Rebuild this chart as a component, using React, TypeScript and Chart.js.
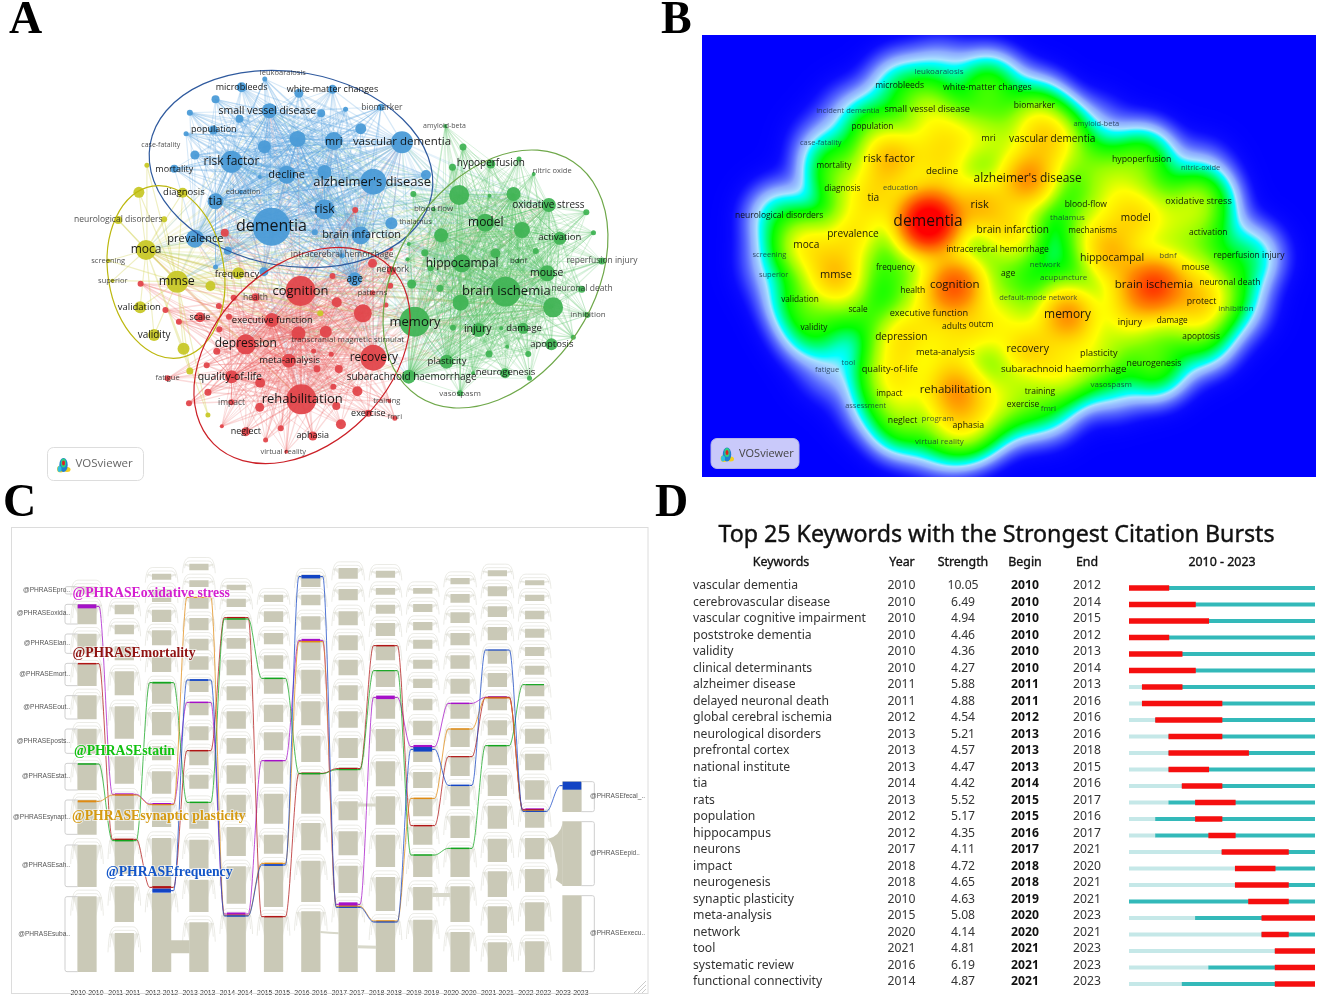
import React, { useEffect, useRef } from "react";
import { Chart, registerables } from "chart.js";

Chart.register(...registerables);

// ---------- Panel A: keyword network ----------
type N = [number, number, number];
const blueNodes: N[] = [[645,680,19],[887,545,13],[955,427,11],[550,485,11],[771,628,10],[512,604,8],[463,716,9],[857,706,9],[793,423,9],[681,524,9],[707,417,8],[628,440,6.5],[771,516,7],[640,332,7.5],[574,262,5],[710,280,4.5],[790,268,4.5],[905,322,3.5],[857,386,5.5],[763,340,4],[821,328,2.5],[507,390,4.5],[569,356,4],[512,298,4],[451,338,3],[442,401,2.5],[463,465,4.5],[414,506,4],[629,237,2.5],[617,531,2],[572,575,2],[930,670,6],[1012,525,5],[748,697,3],[541,752,4],[512,801,2.5],[627,815,4.5],[843,838,7],[813,767,2.5]];
const yellowNodes: N[] = [[421,845,11],[347,750,10],[333,922,6],[366,1005,6],[436,1046,6],[330,577,5.5],[434,578,5],[281,660,4],[390,658,3],[500,858,5],[566,820,6],[258,782,2],[267,842,2],[349,496,2.5],[451,1113,3.5],[494,1245,2.5],[761,940,3]];
const redNodes: N[] = [[714,873,15],[716,1198,15],[887,1073,13],[584,1033,10],[862,940,9],[646,960,7],[709,1000,7],[774,995,6],[686,1082,7],[550,1130,6.5],[618,1148,5],[800,907,5],[475,952,5],[607,892,4],[555,893,3],[790,828,3],[885,790,4.5],[930,812,4.5],[927,857,3],[885,878,2.5],[917,915,2.5],[929,747,2],[844,630,3],[534,698,4],[334,851,3],[393,930,3],[425,965,3],[520,918,3],[544,950,3],[521,988,3],[515,1054,3.5],[491,1096,3],[398,1135,3],[494,1177,3.5],[449,1210,3],[550,1207,3],[617,1222,4.5],[527,1279,2],[584,1295,4.5],[667,1285,3],[631,1320,2.5],[743,1308,4.5],[680,1355,2],[810,1273,5],[875,1240,3.5],[938,1255,2.5],[925,1203,2],[849,1174,5],[799,1218,4],[792,1160,3],[805,1107,4],[753,1106,3.5],[745,1053,2.5],[787,1063,2.5]];
const greenNodes: N[] = [[1201,875,15],[985,965,15],[1097,790,9],[1153,668,9],[1091,585,10],[1240,690,8],[1220,582,7],[1304,615,7],[1330,715,6.5],[1048,706,7],[1300,820,8],[1314,922,10],[1094,908,8],[1137,990,7],[1243,985,5.5],[1310,1033,6],[1061,1085,7],[971,1130,7],[1200,1120,5],[1162,1062,3.5],[1255,1062,3],[1205,1040,2],[1093,1180,3],[1258,1135,2.5],[1362,1012,2.5],[1395,945,3],[1382,868,3.5],[1430,783,3.5],[1410,698,2.5],[1393,637,3],[1268,522,2],[1233,477,2.5],[1166,492,4.5],[1100,441,3.5],[1075,502,3.5],[1058,378,2],[982,582,3],[1030,628,2],[1163,587,2],[1177,760,5],[1273,753,3],[1232,782,2],[1009,758,3.5],[971,732,2],[968,778,2],[1023,805,3],[978,852,4.5],[1045,865,3.5],[1076,983,3],[1191,985,2],[1124,1120,2]];
type L = [string, number, number, number];
const networkLabels: L[] = [["leukoaraiosis",672,218,7.5],["microbleeds",574,262,9],["white-matter changes",790,268,9],["small vessel disease",635,332,10.5],["biomarker",907,322,8.5],["amyloid-beta",1056,378,7],["population",508,388,9],["case-fatality",382,435,7],["vascular dementia",955,425,11.5],["mri",793,425,11],["risk factor",550,486,12],["hypoperfusion",1166,490,10],["nitric oxide",1312,513,7.5],["mortality",414,507,9],["decline",681,524,11],["alzheimer's disease",884,546,13],["education",578,575,7.5],["diagnosis",437,578,9.5],["tia",512,604,12],["oxidative stress",1303,614,10],["risk",771,628,12],["blood flow",1030,627,8],["neurological disorders",281,660,8.5],["dementia",645,678,16],["thalamus",987,666,7.5],["model",1154,668,12],["prevalence",464,716,11],["brain infarction",859,705,11],["activation",1330,713,9.5],["moca",347,750,12],["intracerebral hemorrhage",813,765,8.5],["hippocampal",1098,790,12],["bdnf",1232,782,8],["reperfusion injury",1430,783,8.5],["screening",257,782,7.5],["network",933,810,8.5],["mouse",1299,820,10.5],["frequency",563,822,9.5],["age",843,838,10],["superior",268,842,7.5],["mmse",420,845,12.5],["cognition",714,873,13],["brain ischemia",1203,875,13],["neuronal death",1383,865,8.5],["patterns",885,879,7.5],["health",607,892,8.5],["validation",331,922,9.5],["inhibition",1397,945,8],["scale",475,952,9],["executive function",647,961,9.5],["memory",986,966,13],["injury",1135,988,10.5],["damage",1245,985,9.5],["validity",366,1005,10],["transcranial magnetic stimulat",826,1020,8],["depression",584,1032,12],["apoptosis",1311,1033,9.5],["recovery",888,1073,12],["meta-analysis",688,1082,9.5],["plasticity",1062,1084,9.5],["neurogenesis",1201,1118,9.5],["quality-of-life",546,1132,10.5],["subarachnoid haemorrhage",978,1132,10],["fatigue",398,1135,7.5],["vasospasm",1093,1180,8],["rehabilitation",718,1198,13],["training",919,1203,7.5],["impact",550,1207,8.5],["exercise",875,1240,9],["fmri",938,1252,7.5],["neglect",584,1293,9],["aphasia",743,1305,9],["virtual reality",673,1355,7.5]];

// ---------- Panel B: density map ----------
const densityLabels: L[] = [["leukoaraiosis",658,215,8],["microbleeds",565,258,8.5],["white-matter changes",772,262,9.5],["small vessel disease",630,327,10],["incident dementia",443,333,7.5],["biomarker",883,318,8.5],["amyloid-beta",1029,372,7.5],["population",501,381,9],["case-fatality",379,428,7.5],["mri",775,416,10],["vascular dementia",925,418,11],["hypoperfusion",1136,480,9.5],["nitric-oxide",1275,504,7.5],["risk factor",540,477,12],["mortality",410,497,9],["decline",665,514,10.5],["alzheimer's disease",867,535,13],["education",567,564,7.5],["diagnosis",430,565,9],["tia",503,594,11],["oxidative stress",1270,603,10],["risk",754,614,12],["blood-flow",1004,614,8.5],["neurological disorders",281,647,8.5],["dementia",632,665,17],["thalamus",961,652,8],["model",1122,655,11],["prevalence",455,703,11],["brain infarction",832,691,11],["mechanisms",1020,691,9],["activation",1293,697,8.5],["moca",345,735,11],["intracerebral hemorrhage",796,749,8.5],["hippocampal",1066,773,11.5],["bdnf",1198,766,8],["reperfusion injury",1389,767,8.5],["screening",258,766,7.5],["frequency",555,804,9],["network",908,794,8],["age",821,820,8.5],["acupuncture",952,832,8],["mouse",1263,804,9.5],["mmse",415,826,12],["superior",268,825,7.5],["cognition",695,853,12.5],["brain ischemia",1165,855,12.5],["neuronal death",1344,848,8.5],["health",596,873,8.5],["validation",330,900,9],["default-mode network",892,895,7.5],["protect",1277,905,9.5],["scale",467,930,9],["executive function",634,940,10],["inhibition",1358,925,8],["memory",961,945,13],["injury",1108,966,10],["damage",1208,963,9],["adults",694,979,8.5],["outcm",757,974,9],["validity",363,982,9],["depression",569,1010,11],["apoptosis",1276,1010,9],["recovery",867,1048,11.5],["meta-analysis",673,1058,10],["plasticity",1035,1060,10],["neurogenesis",1165,1092,9.5],["tool",444,1090,7.5],["fatigue",394,1110,7.5],["quality-of-life",542,1107,10],["subarachnoid haemorrhage",952,1107,10.5],["vasospasm",1064,1154,8],["rehabilitation",697,1170,12.5],["impact",541,1181,9],["training",896,1175,8.5],["exercise",856,1213,8.5],["fmri",916,1225,8],["assessment",485,1217,7.5],["neglect",572,1263,9.5],["program",655,1257,8],["aphasia",727,1276,9.5],["virtual reality",659,1324,8]];
const densityUnlabeled: [number, number, number][] = [[690,410,10.5],[620,440,9.5],[880,380,10],[1080,590,9.5],[1000,490,9],[1060,520,9],[1180,590,8.5],[1210,680,9.5],[1040,720,9.5],[1270,900,10.5],[1090,900,10],[730,990,9.5],[790,995,9],[820,920,9.5],[590,1150,9.5],[800,1170,9.5],[780,1230,9],[700,1270,9.5],[695,853,11],[1165,855,11.5]];

// ---------- Panel C: alluvial ----------
const periods = ["2010-2010","2011-2011","2012-2012","2013-2013","2014-2014","2015-2015","2016-2016","2017-2017","2018-2018","2019-2019","2020-2020","2021-2021","2022-2022","2023-2023"];
const columnBlocks: [number, number][][] = [
  [[290,312],[343,402],[432,490],[520,587],[617,687],[717,790],[820,900],[930,1033],[1065,1190],[1220,1445]],
  [[345,372],[405,432],[470,510],[545,615],[650,745],[800,880],[915,1020],[1050,1150],[1190,1295],[1330,1445]],
  [[252,268],[298,335],[360,395],[422,465],[500,545],[578,640],[667,735],[770,810],[845,910],[943,1010],[1045,1190],[1210,1445]],
  [[222,240],[272,290],[322,355],[385,420],[447,480],[500,538],[572,605],[637,675],[710,750],[782,825],[855,895],[937,1015],[1050,1135],[1170,1265],[1298,1445]],
  [[285,300],[327,350],[382,415],[445,475],[510,555],[590,630],[665,715],[745,790],[827,880],[915,980],[1012,1097],[1130,1240],[1275,1445]],
  [[315,335],[365,395],[430,462],[497,535],[565,610],[645,695],[728,780],[812,880],[912,1000],[1035,1090],[1122,1250],[1280,1445]],
  [[255,290],[315,345],[380,418],[450,510],[540,610],[635,705],[738,815],[848,970],[1000,1080],[1113,1235],[1265,1445]],
  [[235,265],[298,330],[365,405],[437,480],[510,555],[587,630],[665,712],[745,803],[833,903],[935,990],[1025,1095],[1128,1208],[1240,1445]],
  [[243,262],[295,313],[345,370],[400,437],[467,510],[542,590],[620,685],[718,783],[815,888],[920,1003],[1035,1130],[1162,1262],[1293,1445]],
  [[295,310],[343,365],[397,420],[450,475],[510,535],[567,593],[627,660],[693,735],[768,815],[847,893],[925,978],[1010,1063],[1095,1160],[1192,1260],[1290,1445]],
  [[265,282],[313,337],[368,398],[430,465],[497,535],[567,610],[640,685],[717,770],[800,857],[888,948],[978,1043],[1075,1160],[1190,1295],[1327,1445]],
  [[242,258],[290,318],[350,380],[412,450],[480,520],[550,590],[620,660],[692,735],[767,825],[855,917],[948,1015],[1047,1115],[1145,1220],[1250,1328],[1358,1445]],
  [[272,285],[315,332],[363,387],[417,442],[472,497],[528,553],[584,618],[650,685],[717,760],[792,840],[872,928],[957,1012],[1045,1107],[1138,1205],[1238,1323],[1355,1445]],
  [[875,965],[995,1187],[1217,1445]],
];
const oxidativeLevels = [349,913,942,637,1272,812,451,1243,622,770,640,622,958,null];
const oxidativeWidths = [4,2,2,1.5,3,1.5,3,4,3.5,3.5,1.5,2,2,0];
const mortalityLevels = [521,1048,1192,782,383,1280,850,836,467,1007,800,622,960,null];
const mortalityWidths = [1.5,1.5,2.5,1.5,1.5,1.5,1.5,1.5,1.5,1.5,1.2,1.2,1.5,0];
const statinLevels = [822,1052,578,937,387,565,851,839,542,1095,1075,767,584,null];
const statinWidths = [1.5,1.5,1.8,1.5,1.5,1.5,1.5,1.2,1.2,1.5,1.5,1.5,1.2,0];
const synapticLevels = [934,915,944,322,1276,1120,455,1249,1293,925,717,624,962,null];
const synapticWidths = [2,1.5,1.2,1.2,1.5,1.5,1.5,1.5,1.5,1.5,1.5,1.2,1.2,0];
const frequencyLevels = [null,null,1202,570,1278,1125,260,1252,1296,778,886,480,964,887];
const frequencyWidths = [0,0,4,1.8,1.5,1.8,3.5,1.2,1.2,4.5,1.5,1.2,1.2,8];
const leftStreams = ["@PHRASEpro..","@PHRASEoxida..","@PHRASElan..","@PHRASEmort..","@PHRASEout..","@PHRASEposts..","@PHRASEstat..","@PHRASEsynapt..","@PHRASEsah..","@PHRASEsuba.."];
const leftStreamY = [300,371,460,553,652,753,860,982,1127,1332];
const rightStreams = ["@PHRASEfecal_..","@PHRASEepid..","@PHRASEexecu.."];
const rightStreamY = [920,1090,1330];

// ---------- Panel D: citation bursts ----------
const keywords = ["vascular dementia","cerebrovascular disease","vascular cognitive impairment","poststroke dementia","validity","clinical determinants","alzheimer disease","delayed neuronal death","global cerebral ischemia","neurological disorders","prefrontal cortex","national institute","tia","rats","population","hippocampus","neurons","impact","neurogenesis","synaptic plasticity","meta-analysis","network","tool","systematic review","functional connectivity"];
const yearsFirst = [2010,2010,2010,2010,2010,2010,2011,2011,2012,2013,2013,2013,2014,2013,2012,2012,2017,2018,2018,2010,2015,2020,2021,2016,2014];
const strengths = ["10.05","6.49","4.94","4.46","4.36","4.27","5.88","4.88","4.54","5.21","4.57","4.47","4.42","5.52","5.17","4.35","4.11","4.72","4.65","4.63","5.08","4.14","4.81","6.19","4.87"];
const burstBegin = [2010,2010,2010,2010,2010,2010,2011,2011,2012,2013,2013,2013,2014,2015,2015,2016,2017,2018,2018,2019,2020,2020,2021,2021,2021];
const burstEnd = [2012,2014,2015,2012,2013,2014,2013,2016,2016,2016,2018,2015,2016,2017,2016,2017,2021,2020,2021,2021,2023,2021,2023,2023,2023];

const OPEN = '"Open Sans"';

function badge(ctx: any, x: number, y: number, w: number, h: number, fill: string, stroke: string, textColor: string, size: number) {
  ctx.save();
  ctx.fillStyle = fill; ctx.strokeStyle = stroke; ctx.lineWidth = 1;
  ctx.beginPath(); ctx.roundRect(x, y, w, h, 6); ctx.fill(); ctx.stroke();
  const ix = x + 16, iy = y + h / 2;
  const blob = (dx: number, dy: number, rx: number, ry: number, c: string, rot = 0) => {
    ctx.fillStyle = c; ctx.beginPath(); ctx.ellipse(ix + dx, iy + dy, rx, ry, rot, 0, 7); ctx.fill();
  };
  blob(-3, 5, 3.5, 3.5, "#f0d020"); blob(3.5, 5.5, 3.5, 2.5, "#f0d020");
  blob(0, 1, 4.2, 7, "#2080d0"); blob(-4, 5, 2, 3, "#30c0e0"); blob(0, -1, 2.6, 4.5, "#30d080");
  blob(0, -1, 1.5, 2.6, "#e02020");
  ctx.fillStyle = textColor; ctx.font = `${size}px ${OPEN}`; ctx.textAlign = "left"; ctx.textBaseline = "middle";
  ctx.fillText("VOSviewer", x + 28, iy);
  ctx.restore();
}

function fan(hub: N, targets: N[], color: string, width: number, order: number) {
  const data: any[] = [];
  targets.forEach((t) => { if (t !== hub) data.push({ x: hub[0], y: hub[1] }, { x: t[0], y: t[1] }, { x: NaN, y: NaN }); });
  return { type: "line", data, borderColor: color, borderWidth: width, pointRadius: 0, spanGaps: false, order };
}

function networkConfig() {
  const clusters: [N[], string, string][] = [
    [blueNodes, "rgba(75,155,215,0.95)", "rgba(90,165,225,0.25)"],
    [yellowNodes, "rgba(200,200,40,0.95)", "rgba(205,205,70,0.33)"],
    [redNodes, "rgba(226,70,75,0.95)", "rgba(235,95,95,0.23)"],
    [greenNodes, "rgba(65,180,85,0.95)", "rgba(90,195,105,0.23)"],
  ];
  const datasets: any[] = [];
  clusters.forEach(([nodes, col]) => {
    datasets.push({ type: "bubble", data: nodes.map((n) => ({ x: n[0], y: n[1], r: n[2] })), backgroundColor: col, borderWidth: 0, order: 0 });
  });
  clusters.forEach(([nodes, , edge], ci) => {
    nodes.filter((n) => n[2] >= 6.5).forEach((h) => datasets.push(fan(h, nodes, edge, 0.5 + h[2] / 16, 2)));
    clusters.forEach(([other], oi) => {
      if (oi === ci) return;
      nodes.filter((n) => n[2] >= 10).forEach((h) => datasets.push(fan(h, other.filter((n) => n[2] >= 7), edge.replace(/[\d.]+\)$/, "0.16)"), 1.1, 3)));
    });
  });
  return {
    type: "bubble",
    data: { datasets },
    options: {
      animation: false, responsive: false, devicePixelRatio: 1,
      layout: { autoPadding: false },
      plugins: { legend: { display: false }, tooltip: { enabled: false } },
      scales: { x: { type: "linear", min: 0, max: 1568, display: false }, y: { type: "linear", min: 0, max: 1470, reverse: true, display: false } },
    },
    plugins: [{
      id: "net",
      afterDatasetsDraw(chart: any) {
        const { ctx, scales: { x, y } } = chart;
        ctx.save();
        const ell = (cx: number, cy: number, a: number, b: number, rot: number, c: string) => {
          ctx.strokeStyle = c; ctx.lineWidth = 1.2; ctx.beginPath();
          ctx.ellipse(cx, cy, a, b, (rot * Math.PI) / 180, 0, Math.PI * 2); ctx.stroke();
        };
        ell(291, 169, 143, 97, 10, "#2f5a9e");
        ell(166, 272, 87, 58, 81, "#bdb80f");
        ell(302, 355.5, 125, 88, -45, "#cb2027");
        ell(495.5, 279, 140.5, 97.7, -56.5, "#6fa84a");
        ctx.textAlign = "center"; ctx.textBaseline = "middle";
        networkLabels.forEach(([t, lx, ly, s]) => {
          ctx.font = `${s}px ${OPEN}`;
          ctx.fillStyle = s < 8.6 ? "rgba(30,30,30,0.8)" : "rgba(10,10,10,0.92)";
          ctx.fillText(t, x.getPixelForValue(lx), y.getPixelForValue(ly));
        });
        ctx.restore();
        badge(ctx, 47.5, 447.5, 96, 33, "#ffffff", "#dddddd", "#666666", 11.5);
      },
    }],
  };
}

const densityStops: [number, number, number, number][] = [
  [0, 0, 0, 255], [0.02, 10, 10, 255], [0.06, 60, 70, 255], [0.14, 140, 170, 255], [0.22, 170, 225, 255], [0.28, 0, 255, 255],
  [0.42, 0, 255, 130], [0.6, 0, 255, 0], [1.2, 150, 255, 0], [1.8, 255, 255, 0], [2.8, 255, 200, 0], [3.8, 255, 140, 0], [5.6, 255, 60, 0], [7.6, 255, 0, 0],
];
function densityColor(v: number) {
  const s = densityStops;
  if (v >= s[s.length - 1][0]) return s[s.length - 1];
  for (let i = 1; i < s.length; i++) {
    if (v < s[i][0]) {
      const f = (v - s[i - 1][0]) / (s[i][0] - s[i - 1][0]);
      const a = s[i - 1], b = s[i];
      return [v, a[1] + (b[1] - a[1]) * f, a[2] + (b[2] - a[2]) * f, a[3] + (b[3] - a[3]) * f];
    }
  }
  return s[0];
}

function densityConfig() {
  const sites = [...densityLabels.map(([, x, y, s]) => [x, y, s]), ...densityUnlabeled];
  return {
    type: "scatter",
    data: { datasets: [{ data: sites.map(([x, y, s]) => ({ x, y, w: Math.pow((s - 6.5) / 3.5, 2) })), pointRadius: 0 }] },
    options: {
      animation: false, responsive: false, devicePixelRatio: 1,
      layout: { padding: { left: 42, top: 35, right: 9, bottom: 13 } },
      plugins: { legend: { display: false }, tooltip: { enabled: false } },
      scales: { x: { type: "linear", min: 99, max: 1547, display: false }, y: { type: "linear", min: 105, max: 1431, reverse: true, display: false } },
    },
    plugins: [{
      id: "density",
      beforeDatasetsDraw(chart: any) {
        const { ctx, chartArea: a, scales: { x, y } } = chart;
        const W = Math.round(a.right - a.left), H = Math.round(a.bottom - a.top);
        const pts = chart.data.datasets[0].data.map((d: any) => [x.getPixelForValue(d.x) - a.left, y.getPixelForValue(d.y) - a.top, d.w]);
        const field = new Float32Array(W * H);
        const sigma = 20, k = 1 / (2 * sigma * sigma), R = sigma * 4;
        pts.forEach(([px, py, w]: number[]) => {
          const x0 = Math.max(0, Math.floor(px - R)), x1 = Math.min(W - 1, Math.ceil(px + R));
          const y0 = Math.max(0, Math.floor(py - R)), y1 = Math.min(H - 1, Math.ceil(py + R));
          for (let j = y0; j <= y1; j++) for (let i = x0; i <= x1; i++) {
            const dx = i - px, dy = j - py;
            field[j * W + i] += w * Math.exp(-(dx * dx + dy * dy) * k);
          }
        });
        const img = ctx.createImageData(W, H);
        for (let p = 0; p < W * H; p++) {
          const c = densityColor(field[p]);
          img.data[p * 4] = c[1]; img.data[p * 4 + 1] = c[2]; img.data[p * 4 + 2] = c[3]; img.data[p * 4 + 3] = 255;
        }
        ctx.putImageData(img, Math.round(a.left), Math.round(a.top));
      },
      afterDatasetsDraw(chart: any) {
        const { ctx, scales: { x, y } } = chart;
        ctx.save();
        ctx.textAlign = "center"; ctx.textBaseline = "middle";
        densityLabels.forEach(([t, lx, ly, s]) => {
          ctx.font = `${s > 8.6 ? s * 0.92 : s}px ${OPEN}`;
          ctx.fillStyle = s < 8.2 ? "rgba(20,40,60,0.78)" : "rgba(10,10,10,0.92)";
          ctx.fillText(t, x.getPixelForValue(lx), y.getPixelForValue(ly));
        });
        ctx.restore();
        badge(ctx, 51, 438.5, 88, 30, "#c9c9fa", "#b5b5e8", "#444444", 11);
      },
    }],
  };
}

function fade(color: string) { return color + "bb"; }

function flow(levels: (number | null)[], widths: number[], color: string) {
  const data: any[] = [];
  const last = levels.length - 1;
  levels.forEach((v, i) => {
    if (v === null) return;
    const hasPrev = i > 0 && levels[i - 1] !== null;
    const hasNext = i < last && levels[i + 1] !== null;
    if (hasPrev) data.push({ x: i - 0.32, y: v });
    data.push({ x: i - 0.25, y: v }, { x: i + 0.25, y: v });
    if (hasNext) data.push({ x: i + 0.32, y: v });
  });
  const plateau = (c: any) => c.p1.parsed.x - c.p0.parsed.x > 0.45;
  return {
    type: "line", xAxisID: "xl", yAxisID: "y", data, borderColor: color, borderWidth: 1, pointRadius: 0,
    cubicInterpolationMode: "monotone", order: 0, clip: false,
    segment: {
      borderWidth: (c: any) => (plateau(c) ? widths[Math.round((c.p0.parsed.x + c.p1.parsed.x) / 2)] : 1),
      borderColor: (c: any) => (c.p0.parsed.y !== c.p1.parsed.y ? fade(color) : color),
    },
  };
}

function grayStream(col0: number, y0: number, y1: number, width: number, color = "#cac9b7") {
  return {
    type: "line", xAxisID: "xl", yAxisID: "y", data: [{ x: col0 + 0.25, y: y0 }, { x: col0 + 0.75, y: y1 }],
    borderColor: color, borderWidth: width, pointRadius: 0, cubicInterpolationMode: "monotone", order: 1,
  };
}

function alluvialConfig() {
  const maxBlocks = Math.max(...columnBlocks.map((c) => c.length));
  const bars: any[] = [];
  for (let s = 0; s < maxBlocks; s++) {
    bars.push({
      type: "bar", xAxisID: "x", yAxisID: "y", data: columnBlocks.map((c) => c[s] ?? null),
      backgroundColor: "#cac9b7", barThickness: 18.6, grouped: false, order: 3,
    });
  }
  const datasets = [
    flow(frequencyLevels, frequencyWidths, "#1244c4"),
    flow(synapticLevels, synapticWidths, "#df8a12"),
    flow(statinLevels, statinWidths, "#12a51e"),
    flow(mortalityLevels, mortalityWidths, "#b01414"),
    flow(oxidativeLevels, oxidativeWidths, "#a511c8"),
    grayStream(2, 1370, 1370, 13), grayStream(7, 1370, 1372, 3, "#d8d8ca"), grayStream(6, 1326, 1330, 2, "#d8d8ca"), grayStream(9, 1215, 1215, 4, "#d8d8ca"), grayStream(7, 945, 945, 3, "#d8d8ca"),
    ...bars,
  ];
  return {
    type: "bar",
    data: { labels: periods, datasets },
    options: {
      animation: false, responsive: false, devicePixelRatio: 1,
      layout: { padding: { left: 68.35, right: 69.35, top: 37, bottom: 0 } },
      plugins: { legend: { display: false }, tooltip: { enabled: false } },
      scales: {
        x: {
          type: "category", offset: true, grid: { display: false }, border: { display: false },
          ticks: { autoSkip: false, maxRotation: 0, minRotation: 0, padding: 9, color: "#333", font: { family: "Liberation Sans", size: 6.9 } },
          afterFit: (s: any) => { s.height = 27; },
        },
        xl: { type: "linear", axis: "x", min: -0.5, max: 13.5, offset: false, display: false },
        y: { type: "linear", min: 111, max: 1446, reverse: true, display: false },
      },
    },
    plugins: [{
      id: "alluvial",
      beforeDatasetsDraw(chart: any) {
        const { ctx, scales: { xl, y } } = chart;
        ctx.save();
        ctx.strokeStyle = "#dcdcdc"; ctx.lineWidth = 1; ctx.strokeRect(11.5, 37.5, 636.5, 466);
        ctx.strokeStyle = "#ccc"; ctx.beginPath();
        for (const d of [4, 8, 12]) { ctx.moveTo(646 - d, 503); ctx.lineTo(646, 503 - d); }
        ctx.stroke();
        columnBlocks.forEach((blocks, c) => {
          const L = xl.getPixelForValue(c - 0.25), R = xl.getPixelForValue(c + 0.25);
          blocks.forEach(([t, b]) => {
            if (c === 13) return;
            const T = y.getPixelForValue(t), B = y.getPixelForValue(b), h = B - T;
            ctx.strokeStyle = "rgba(195,195,180,0.42)"; ctx.lineWidth = 0.8;
            [0, 1].forEach((k) => {
              const o = 3 + k * 3.5, e = Math.min(h * 0.7, 14) + k * 5;
              ctx.beginPath();
              ctx.moveTo(L - 5 - k * 2, T + e);
              ctx.bezierCurveTo(L - 4 - k * 2, T - o, L - 2, T - o, L + 2, T - o);
              ctx.lineTo(R - 2, T - o);
              ctx.bezierCurveTo(R + 2, T - o, R + 4 + k * 2, T - o, R + 5 + k * 2, T + e);
              ctx.stroke();
            });
            ctx.fillStyle = "rgba(205,205,190,0.4)";
            const m = Math.min(h * 0.55, 20);
            ctx.beginPath(); ctx.moveTo(R, T + 1); ctx.quadraticCurveTo(R + 3, T - 1, R + 6, T + 1); ctx.quadraticCurveTo(R + 3, T + 2, R, T + m); ctx.fill();
            ctx.beginPath(); ctx.moveTo(L, T + 1); ctx.quadraticCurveTo(L - 3, T - 1, L - 6, T + 1); ctx.quadraticCurveTo(L - 3, T + 2, L, T + m); ctx.fill();
          });
        });
        // the wide inflow into the 2023 "epid" stream
        const bl = xl.getPixelForValue(12.75);
        ctx.fillStyle = "#cac9b7";
        ctx.beginPath();
        ctx.moveTo(bl - 15, y.getPixelForValue(1047));
        ctx.quadraticCurveTo(bl - 3, y.getPixelForValue(1040), bl, y.getPixelForValue(1000));
        ctx.lineTo(bl, y.getPixelForValue(1185));
        ctx.lineTo(bl - 7, y.getPixelForValue(1170));
        ctx.quadraticCurveTo(bl - 3, y.getPixelForValue(1140), bl - 7, y.getPixelForValue(1110));
        ctx.quadraticCurveTo(bl - 9, y.getPixelForValue(1060), bl - 15, y.getPixelForValue(1047));
        ctx.fill();
        ctx.restore();
      },
      afterDatasetsDraw(chart: any) {
        const { ctx, scales: { xl, y } } = chart;
        ctx.save();
        ctx.strokeStyle = "#cfcfcf"; ctx.lineWidth = 1;
        const bracket = (xa: number, xb: number, t: number, b: number) => {
          const T = y.getPixelForValue(t), B = y.getPixelForValue(b);
          ctx.beginPath(); ctx.moveTo(xa, T); ctx.lineTo(xb + Math.sign(xa - xb) * 2, T); ctx.quadraticCurveTo(xb, T, xb, T + 2);
          ctx.lineTo(xb, B - 2); ctx.quadraticCurveTo(xb, B, xb + Math.sign(xa - xb) * 2, B); ctx.lineTo(xa, B); ctx.stroke();
        };
        const left = xl.getPixelForValue(-0.25), right = xl.getPixelForValue(13.25);
        columnBlocks[0].forEach(([t, b]) => bracket(left, 65, t, b));
        columnBlocks[13].forEach(([t, b]) => bracket(right, right + 13, t, b));
        ctx.font = "6.6px Liberation Sans"; ctx.fillStyle = "#555"; ctx.textBaseline = "middle";
        ctx.textAlign = "right";
        leftStreams.forEach((s, i) => ctx.fillText(s, 70, y.getPixelForValue(leftStreamY[i])));
        ctx.textAlign = "left";
        rightStreams.forEach((s, i) => ctx.fillText(s, 590, y.getPixelForValue(rightStreamY[i])));
        const notes: [string, number, number, string][] = [
          ["@PHRASEoxidative stress", 72.5, 310, "#d41fd0"],
          ["@PHRASEmortality", 72.5, 489, "#8f1212"],
          ["@PHRASEstatin", 74, 785, "#11c211"],
          ["@PHRASEsynaptic plasticity", 72, 980, "#d59a12"],
          ["@PHRASEfrequency", 106, 1148, "#1255c8"],
        ];
        ctx.font = "bold 13.7px Liberation Serif";
        notes.forEach(([t, nx, ny, c]) => {
          const py = y.getPixelForValue(ny);
          ctx.strokeStyle = "rgba(255,255,255,0.55)"; ctx.lineWidth = 2.2; ctx.strokeText(t, nx, py);
          ctx.fillStyle = c; ctx.fillText(t, nx, py);
        });
        ctx.restore();
      },
    }],
  };
}

function burstConfig() {
  const bar = (data: any[], color: string, thick: number) => ({
    type: "bar", xAxisID: "x", yAxisID: "yb", data, backgroundColor: color, barThickness: thick, grouped: false,
  });
  const datasets = [
    bar(keywords.map((_, i) => ({ x: [burstBegin[i], burstEnd[i] + 1], y: i })), "#f50f0f", 5),
    bar(keywords.map((_, i) => ({ x: [yearsFirst[i], 2024], y: i })), "#33b9b9", 3.4),
    bar(keywords.map((_, i) => ({ x: [2010, yearsFirst[i]], y: i })), "#c5e8e8", 3.4),
  ];
  return {
    type: "bar",
    data: { labels: keywords, datasets },
    options: {
      indexAxis: "y", animation: false, responsive: false, devicePixelRatio: 1,
      layout: { padding: { left: 33, right: 10, top: 87.75, bottom: 8.75 } },
      plugins: { legend: { display: false }, tooltip: { enabled: false } },
      scales: {
        x: { type: "linear", min: 2010, max: 2024, display: false },
        yb: { type: "linear", axis: "y", min: -0.62, max: 24.38, offset: false, reverse: true, display: false },
        y: {
          type: "category", labels: keywords, position: "left", offset: true,
          grid: { display: false }, border: { display: false },
          ticks: { autoSkip: false, crossAlign: "far", padding: 0, color: "#333", font: { family: "Noto Sans", size: 12.2 } },
          afterFit: (s: any) => { s.width = 436; },
        },
      },
    },
    plugins: [{
      id: "burstText",
      afterDatasetsDraw(chart: any) {
        const { ctx, scales: { y } } = chart;
        ctx.save();
        ctx.textBaseline = "middle"; ctx.textAlign = "center";
        ctx.fillStyle = "#111"; ctx.strokeStyle = "#111";
        ctx.font = "23.2px Noto Sans"; ctx.lineWidth = 0.4;
        const title = "Top 25 Keywords with the Strongest Citation Bursts";
        ctx.fillText(title, 336.5, 45); ctx.strokeText(title, 336.5, 45);
        ctx.font = "12.4px Noto Sans"; ctx.lineWidth = 0.35;
        ([["Keywords", 121], ["Year", 242], ["Strength", 303], ["Begin", 365], ["End", 427], ["2010 - 2023", 562]] as [string, number][])
          .forEach(([t, hx]) => { ctx.fillText(t, hx, 72.5); ctx.strokeText(t, hx, 72.5); });
        keywords.forEach((_, i) => {
          const py = y.getPixelForValue(i);
          ctx.font = "12.2px Noto Sans"; ctx.fillStyle = "#333";
          ctx.fillText(String(yearsFirst[i]), 241.5, py);
          ctx.fillText(strengths[i], 303, py);
          ctx.fillText(String(burstEnd[i]), 427, py);
          ctx.font = "bold 12.2px Noto Sans"; ctx.fillStyle = "#111";
          ctx.fillText(String(burstBegin[i]), 365, py);
        });
        ctx.restore();
      },
    }],
  };
}

function Panel({ left, top, w, h, make }: { left: number; top: number; w: number; h: number; make: () => any }) {
  const ref = useRef<HTMLCanvasElement>(null);
  useEffect(() => {
    const c = new Chart(ref.current as any, make());
    return () => c.destroy();
  }, []);
  return <canvas ref={ref} width={w} height={h} style={{ position: "absolute", left, top, width: w, height: h }} />;
}

const letters: [string, number, number][] = [["A", 9, -7], ["B", 661, -7], ["C", 3, 476], ["D", 655, 476]];

export default function App() {
  return (
    <div style={{ position: "absolute", left: 0, top: 0, width: 1325, height: 999, overflow: "hidden", background: "#fff" }}>
      <Panel left={0} top={0} w={660} h={490} make={networkConfig} />
      <Panel left={660} top={0} w={665} h={490} make={densityConfig} />
      <Panel left={0} top={490} w={660} h={509} make={alluvialConfig} />
      <Panel left={660} top={490} w={665} h={509} make={burstConfig} />
      {letters.map(([t, x, y]) => (
        <div key={t} style={{ position: "absolute", left: x, top: y, font: "bold 46px 'Liberation Serif'", color: "#000", lineHeight: "50px" }}>{t}</div>
      ))}
    </div>
  );
}
